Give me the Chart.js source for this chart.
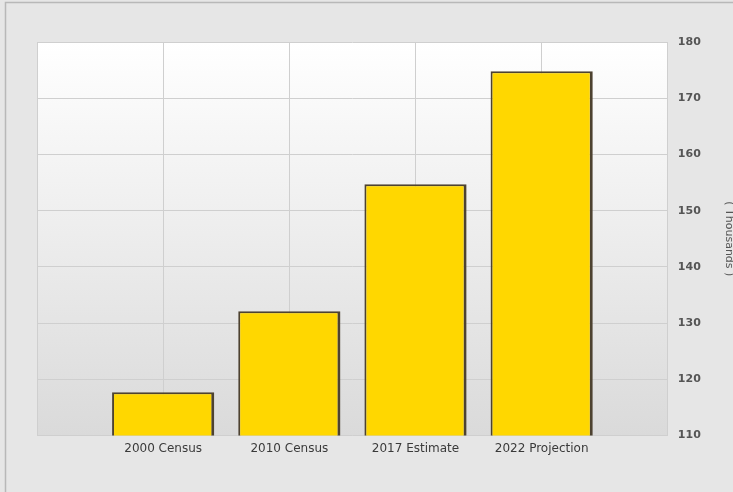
<!DOCTYPE html>
<html>
<head>
<meta charset="utf-8">
<script src="https://cdn.jsdelivr.net/npm/chart.js@4"></script>
<style>
html,body{margin:0;padding:0;overflow:hidden;background:#e6e6e6;}
#wrap{width:757px;height:492px;position:relative;}
</style>
</head>
<body>
<div id="wrap"><canvas id="popChart"></canvas></div>
<script>
// population, in thousands
const categories = ["2000 Census", "2010 Census", "2017 Estimate", "2022 Projection"];
const population = [117.7, 132.1, 154.7, 174.8];
const yTicks = [110, 120, 130, 140, 150, 160, 170, 180];

// blank slots at each end so the grid has five columns like the original
const labels = [""].concat(categories, [""]);
const values = [null].concat(population, [null]);

const frame = {
  id: "frame",
  beforeDraw(chart) {
    const c = chart.ctx, a = chart.chartArea;
    c.save();
    c.fillStyle = "#e6e6e6";
    c.fillRect(0, 0, chart.width, chart.height);
    c.strokeStyle = "#b8b8b8";
    c.lineWidth = 1.5;
    c.beginPath();
    c.moveTo(5.5, chart.height);
    c.lineTo(5.5, 2.5);
    c.lineTo(chart.width, 2.5);
    c.stroke();
    const g = c.createLinearGradient(0, a.top, 0, a.bottom);
    g.addColorStop(0, "#ffffff");
    g.addColorStop(1, "#dadada");
    c.fillStyle = g;
    c.fillRect(a.left, a.top, a.right - a.left, a.bottom - a.top);
    c.restore();
  }
};

new Chart(document.getElementById("popChart"), {
  type: "bar",
  data: {
    labels: labels,
    datasets: [{
      data: values,
      backgroundColor: "#ffd700",
      borderColor: "#4d4230",
      borderWidth: {top: 2, right: 3, bottom: 2, left: 2},
      borderSkipped: false,
      categoryPercentage: 1,
      barPercentage: 0.81
    }]
  },
  options: {
    responsive: true,
    maintainAspectRatio: false,
    animation: false,
    layout: {padding: {left: 37, top: 42, right: 0, bottom: 30}},
    plugins: {legend: {display: false}, tooltip: {enabled: false}},
    scales: {
      x: {
        offset: false,
        grid: {offset: false, color: "#cfcfcf", drawTicks: false},
        border: {display: false},
        ticks: {
          color: "#3a3a3a",
          padding: 6,
          maxRotation: 0,
          autoSkip: false,
          font: {family: "DejaVu Sans", size: 12}
        }
      },
      y: {
        position: "right",
        min: yTicks[0],
        max: yTicks[yTicks.length - 1],
        afterBuildTicks(scale) {
          scale.ticks = yTicks.map(v => ({value: v}));
        },
        grid: {color: "#cfcfcf", drawTicks: false},
        border: {display: false},
        ticks: {
          color: "#555",
          padding: 10,
          font: {family: "DejaVu Sans", size: 11, weight: "bold"}
        },
        title: {
          display: true,
          text: "( Thousands )",
          color: "#555",
          padding: {top: 22, bottom: 11},
          font: {family: "DejaVu Sans", size: 11}
        }
      }
    }
  },
  plugins: [frame]
});
</script>
</body>
</html>
